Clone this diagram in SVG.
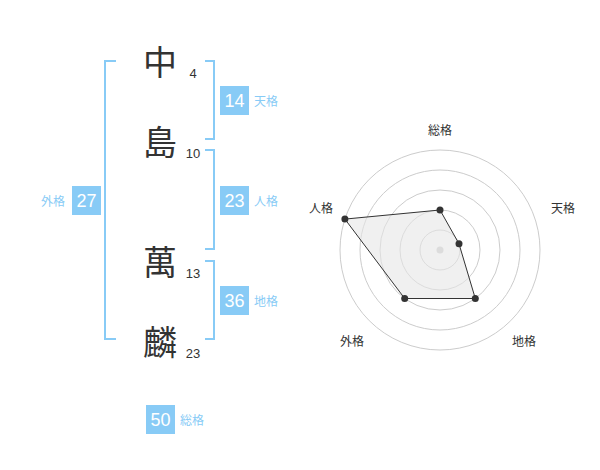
<svg xmlns="http://www.w3.org/2000/svg" width="600" height="470" viewBox="0 0 600 470">
<style>
.ch{font-family:"Noto Sans CJK JP","Noto Sans CJK SC",sans-serif;font-size:34px;fill:#333;text-anchor:middle}
.num{font-family:"Liberation Sans",Arial,sans-serif;font-size:13px;fill:#333;text-anchor:middle}
.br{fill:none;stroke:#88cbf6;stroke-width:2}
.box{fill:#88cbf6}
.bn{font-family:"Liberation Sans",Arial,sans-serif;font-size:18px;fill:#fff;text-anchor:middle}
.lb{font-family:"Noto Sans CJK JP","Noto Sans CJK SC",sans-serif;font-size:12px;fill:#88cbf6}
.rl{font-family:"Noto Sans CJK JP","Noto Sans CJK SC",sans-serif;font-size:12px;fill:#333;text-anchor:middle}
.ring{fill:none;stroke:#ccc;stroke-width:1}
.pt{fill:#333}
</style>
<rect width="600" height="470" fill="#fff"/>
<g id="names">
<g id="c1"><text class="ch" x="160" y="75">中</text><text class="num" x="193" y="78">4</text></g>
<g id="c2"><text class="ch" x="160" y="155">島</text><text class="num" x="193" y="158">10</text></g>
<g id="c3"><text class="ch" x="160" y="275">萬</text><text class="num" x="193" y="278">13</text></g>
<g id="c4"><text class="ch" x="160" y="355">麟</text><text class="num" x="193" y="358">23</text></g>
</g>
<g id="connectors">
<path class="br" d="M116,61 H105 V339 H116"/>
<path class="br" d="M205,61 H214 V139 H205"/>
<path class="br" d="M205,150 H214 V249 H205"/>
<path class="br" d="M205,261 H214 V339 H205"/>
</g>
<g id="tenkaku"><rect class="box" x="220" y="86" width="29" height="29"/><text class="bn" x="234.5" y="107">14</text><text class="lb" x="254" y="106">天格</text></g>
<g id="jinkaku"><rect class="box" x="220" y="186" width="29" height="29"/><text class="bn" x="234.5" y="207">23</text><text class="lb" x="254" y="206">人格</text></g>
<g id="chikaku"><rect class="box" x="220" y="286" width="29" height="29"/><text class="bn" x="234.5" y="307">36</text><text class="lb" x="254" y="306">地格</text></g>
<g id="gaikaku"><rect class="box" x="72" y="186" width="29" height="29"/><text class="bn" x="86.5" y="207">27</text><text class="lb" x="41" y="206">外格</text></g>
<g id="soukaku"><rect class="box" x="146" y="405" width="29" height="29"/><text class="bn" x="160.5" y="426">50</text><text class="lb" x="180" y="425">総格</text></g>
<g id="radar">
<circle class="ring" cx="440" cy="250" r="20"/>
<circle class="ring" cx="440" cy="250" r="40"/>
<circle class="ring" cx="440" cy="250" r="60"/>
<circle class="ring" cx="440" cy="250" r="80"/>
<circle class="ring" cx="440" cy="250" r="100"/>
<circle cx="440" cy="250" r="3.5" fill="#ccc"/>
<polygon points="440,210 459,243.8 475.3,298.5 404.7,298.5 344.9,219.1" fill="#e6e6e6" fill-opacity="0.6" stroke="#333" stroke-width="1"/>
<circle class="pt" cx="440" cy="210" r="3.5"/>
<circle class="pt" cx="459" cy="243.8" r="3.5"/>
<circle class="pt" cx="475.3" cy="298.5" r="3.5"/>
<circle class="pt" cx="404.7" cy="298.5" r="3.5"/>
<circle class="pt" cx="344.9" cy="219.1" r="3.5"/>
<text class="rl" x="440" y="135">総格</text>
<text class="rl" x="563" y="213">天格</text>
<text class="rl" x="524" y="346">地格</text>
<text class="rl" x="352" y="346">外格</text>
<text class="rl" x="321" y="213">人格</text>
</g>
</svg>
